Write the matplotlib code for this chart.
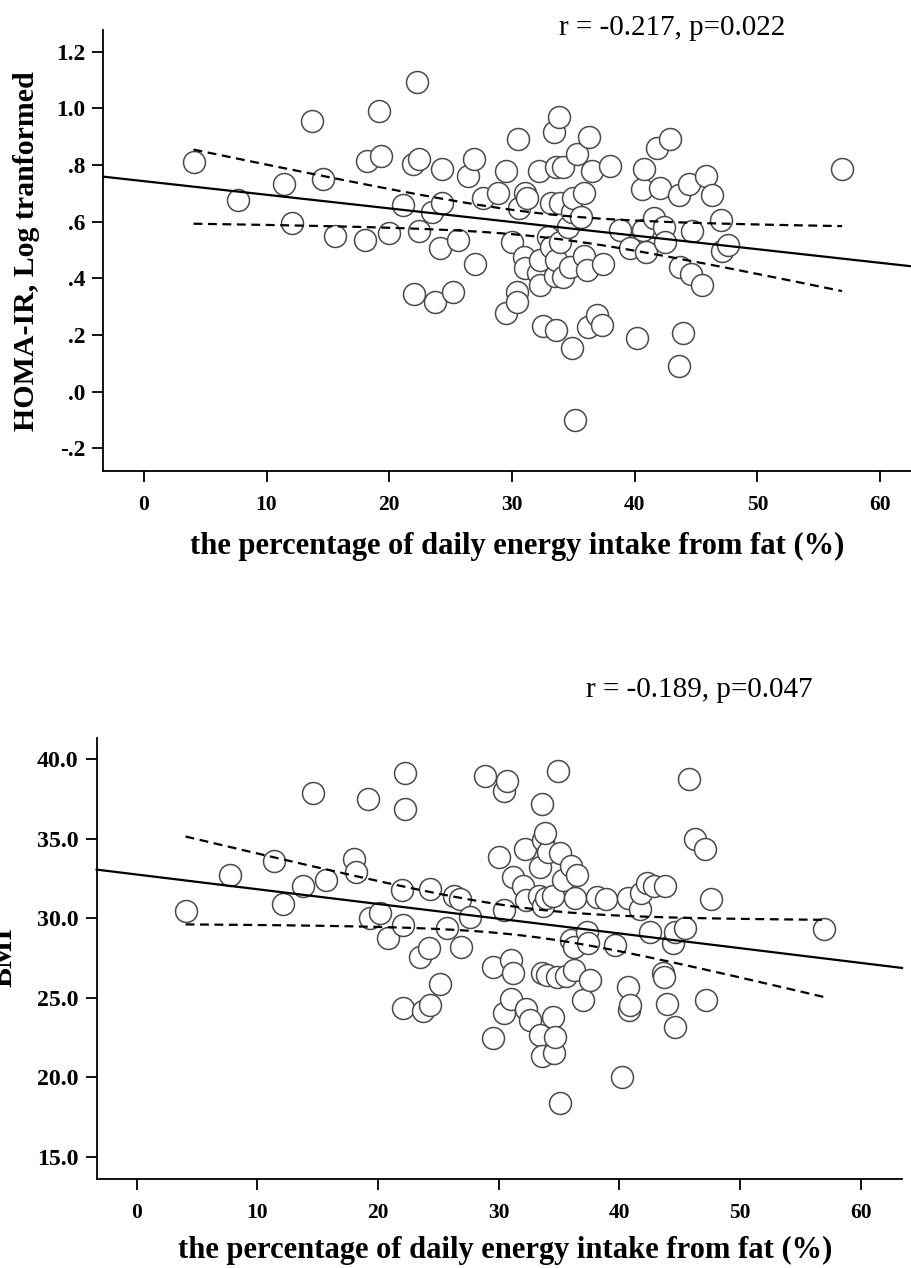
import numpy as np
import matplotlib
matplotlib.use("Agg")
import matplotlib.pyplot as plt

# ---------------- data ----------------
fat_top = [4.05, 7.7, 11.4, 12.1, 13.7, 14.6, 15.6, 18.0, 18.15, 19.2, 19.3, 20.0, 21.1, 21.9,
           22.3, 22.4, 22.4, 22.0, 23.5, 23.7, 24.1, 24.3, 24.3, 25.2, 25.6, 26.4, 26.9, 26.98,
           27.6, 28.9, 29.5, 29.5, 29.97, 30.4, 30.4, 30.5, 30.6, 30.97, 31.05, 31.1, 31.2, 32.1,
           32.2, 32.3, 32.3, 32.5, 32.95, 33.2, 33.2, 33.4, 33.5, 33.6, 33.6, 33.6, 33.8, 33.9,
           33.9, 34.2, 34.2, 34.6, 34.7, 34.9, 34.9, 35.0, 35.1, 35.3, 35.6, 35.9, 35.9, 36.1,
           36.2, 36.3, 36.5, 36.9, 37.3, 37.4, 38.0, 38.8, 39.6, 40.2, 40.6, 40.7, 40.8, 40.9,
           41.6, 41.8, 42.05, 42.4, 42.5, 42.9, 43.6, 43.6, 43.7, 43.9, 44.4, 44.6, 44.7, 45.5,
           45.8, 46.3, 47.0, 47.1, 47.6, 56.9]
homa_log = [0.81, 0.677, 0.732, 0.597, 0.957, 0.75, 0.551, 0.535, 0.814, 0.99, 0.832, 0.559, 0.659, 0.803,
            1.093, 0.82, 0.568, 0.344, 0.635, 0.316, 0.508, 0.785, 0.665, 0.351, 0.535, 0.76, 0.82, 0.451,
            0.683, 0.70, 0.781, 0.277, 0.53, 0.351, 0.316, 0.894, 0.647, 0.476, 0.702, 0.435, 0.685, 0.418,
            0.779, 0.377, 0.465, 0.232, 0.547, 0.512, 0.665, 0.918, 0.41, 0.465, 0.794, 0.218, 0.969, 0.53,
            0.665, 0.794, 0.406, 0.582, 0.441, 0.635, 0.153, 0.683, -0.10, 0.838, 0.618, 0.703, 0.48, 0.429,
            0.23, 0.90, 0.779, 0.271, 0.235, 0.451, 0.797, 0.571, 0.508, 0.188, 0.715, 0.571, 0.785, 0.494,
            0.612, 0.861, 0.72, 0.582, 0.53, 0.891, 0.694, 0.091, 0.439, 0.208, 0.733, 0.415, 0.568, 0.377,
            0.761, 0.694, 0.606, 0.498, 0.518, 0.785]

fat_bot = [4.06, 7.73, 11.4, 12.1, 13.75, 14.6, 15.7, 18.0, 18.2, 19.2, 19.3, 20.2, 20.8, 22.0,
           22.1, 22.1, 22.2, 22.2, 23.5, 23.7, 24.2, 24.3, 24.3, 25.1, 25.7, 26.3, 26.8, 26.9,
           27.6, 28.9, 29.5, 29.5, 30.0, 30.4, 30.4, 30.45, 30.7, 31.0, 31.05, 31.2, 31.2, 32.0,
           32.2, 32.25, 32.3, 32.6, 33.35, 33.4, 33.4, 33.55, 33.55, 33.6, 33.7, 33.7, 33.9, 33.97,
           34.1, 34.5, 34.5, 34.6, 34.65, 34.8, 34.9, 35.1, 35.1, 35.3, 35.6, 36.0, 36.0, 36.2,
           36.2, 36.3, 36.45, 37.0, 37.3, 37.4, 37.55, 38.1, 38.9, 39.6, 40.2, 40.7, 40.7, 40.8,
           40.9, 41.7, 41.8, 42.25, 42.5, 42.9, 43.6, 43.7, 43.8, 43.9, 44.45, 44.6, 44.6, 45.4,
           45.8, 46.25, 47.1, 47.2, 47.6, 56.95, 33.8]
bmi = [30.42, 32.68, 33.62, 30.88, 32.03, 37.86, 32.4, 33.7, 32.87, 37.48, 30.0, 30.35, 28.74, 31.78,
       29.58, 24.34, 39.12, 36.85, 27.58, 24.19, 28.11, 31.82, 24.55, 25.87, 29.37, 31.36, 31.19, 28.18,
       30.1, 38.95, 26.9, 22.49, 33.87, 37.96, 30.48, 24.02, 38.6, 24.9, 27.38, 32.6, 26.54, 31.99,
       34.34, 24.28, 31.15, 23.6, 31.36, 33.2, 22.66, 26.54, 21.34, 37.19, 34.9, 30.73, 31.26, 26.43,
       34.13, 31.36, 23.8, 21.5, 22.55, 26.29, 39.22, 34.1, 18.36, 32.4, 26.33, 33.25, 28.63, 28.21,
       26.75, 31.26, 32.72, 24.86, 29.15, 28.43, 26.12, 31.32, 31.19, 28.32, 20.03, 31.26, 25.7, 24.23,
       24.55, 30.57, 31.57, 32.2, 29.15, 31.99, 26.54, 26.29, 31.99, 24.61, 28.43, 29.15, 23.14, 29.37,
       38.74, 34.97, 34.34, 24.86, 31.19, 29.3, 35.35]

top_note = "r = -0.217, p=0.022"
bot_note = "r = -0.189, p=0.047"
xlabel = "the percentage of daily energy intake from fat (%)"
top_ylabel = "HOMA-IR, Log tranformed"
bot_ylabel = "BMI"
x_ticks = [0, 10, 20, 30, 40, 50, 60]
top_yticks = [-0.2, 0.0, 0.2, 0.4, 0.6, 0.8, 1.0, 1.2]
top_yticklabels = ["-.2", ".0", ".2", ".4", ".6", ".8", "1.0", "1.2"]
bot_yticks = [15, 20, 25, 30, 35, 40]
bot_yticklabels = ["15.0", "20.0", "25.0", "30.0", "35.0", "40.0"]

# ---------------- figure ----------------
SERIF = ["Liberation Serif", "DejaVu Serif"]
plt.rcParams['font.family'] = SERIF
fig = plt.figure(figsize=(9.12, 12.68), dpi=100)

ax1 = fig.add_axes([0.1133, 0.6286, 1.0 - 0.1133, 0.3477])
ax2 = fig.add_axes([0.1060, 0.0702, 0.9890 - 0.1060, 0.3475])


def fit_and_ci(x, y, xs):
    x = np.asarray(x, float); y = np.asarray(y, float)
    n = len(x)
    b, a = np.polyfit(x, y, 1)
    resid = y - (a + b * x)
    s = np.sqrt(np.sum(resid ** 2) / (n - 2))
    sxx = np.sum((x - x.mean()) ** 2)
    t = 1.983
    se = s * np.sqrt(1.0 / n + (xs - x.mean()) ** 2 / sxx)
    return a, b, se * t


def panel(ax, x, y, xlim, ylim, yticks, yticklabels, ysize):
    ax.set_xlim(*xlim)
    ax.set_ylim(*ylim)
    xx = np.linspace(xlim[0], xlim[1], 200)
    xs = np.linspace(min(x), max(x), 200)
    a, b, ci = fit_and_ci(x, y, xs)
    ax.plot(xx, a + b * xx, color="black", lw=1.6, zorder=3, clip_on=False)
    ax.plot(xs, a + b * xs + ci, color="black", lw=1.6, ls=(0, (4, 2.5)), zorder=3)
    ax.plot(xs, a + b * xs - ci, color="black", lw=1.6, ls=(0, (4, 2.5)), zorder=3)
    ax.scatter(x, y, s=250, facecolor="white", edgecolor="#4a4a4a", linewidths=1.1, zorder=2)
    for sp in ["top", "right"]:
        ax.spines[sp].set_visible(False)
    for sp in ["left", "bottom"]:
        ax.spines[sp].set_linewidth(1.3)
    ax.set_xticks(x_ticks)
    ax.set_xticklabels([str(v) for v in x_ticks])
    ax.set_yticks(yticks)
    ax.set_yticklabels(yticklabels)
    ax.tick_params(direction="out", length=8, width=1.3, pad=5)
    ax.tick_params(axis="x", pad=9, labelsize=15.5)
    ax.tick_params(axis="y", labelsize=ysize)
    for lab in ax.get_xticklabels() + ax.get_yticklabels():
        lab.set_fontweight("bold")


panel(ax1, fat_top, homa_log, (-3.3, 62.6), (-0.28, 1.277), top_yticks, top_yticklabels, 16.8)
panel(ax2, fat_bot, bmi, (-3.3, 63.4), (13.6, 41.3), bot_yticks, bot_yticklabels, 17.2)

# texts
fig.text(672 / 912, 1 - 28 / 1268, top_note, ha="center", va="center", fontsize=21)
fig.text(699 / 912, 1 - 690 / 1268, bot_note, ha="center", va="center", fontsize=21)
fig.text(190 / 912, 1 - 546 / 1268, xlabel, ha="left", va="center", fontsize=22, fontweight="bold")
fig.text(178 / 912, 1 - 1250 / 1268, xlabel, ha="left", va="center", fontsize=22, fontweight="bold")
fig.text(27 / 912, 1 - 251 / 1268, top_ylabel, ha="center", va="center", rotation=90,
         fontsize=21.5, fontweight="bold")
fig.text(4 / 912, 1 - 957 / 1268, bot_ylabel, ha="center", va="center", rotation=90,
         fontsize=21.5, fontweight="bold")

fig.savefig("out.png", dpi=100)
